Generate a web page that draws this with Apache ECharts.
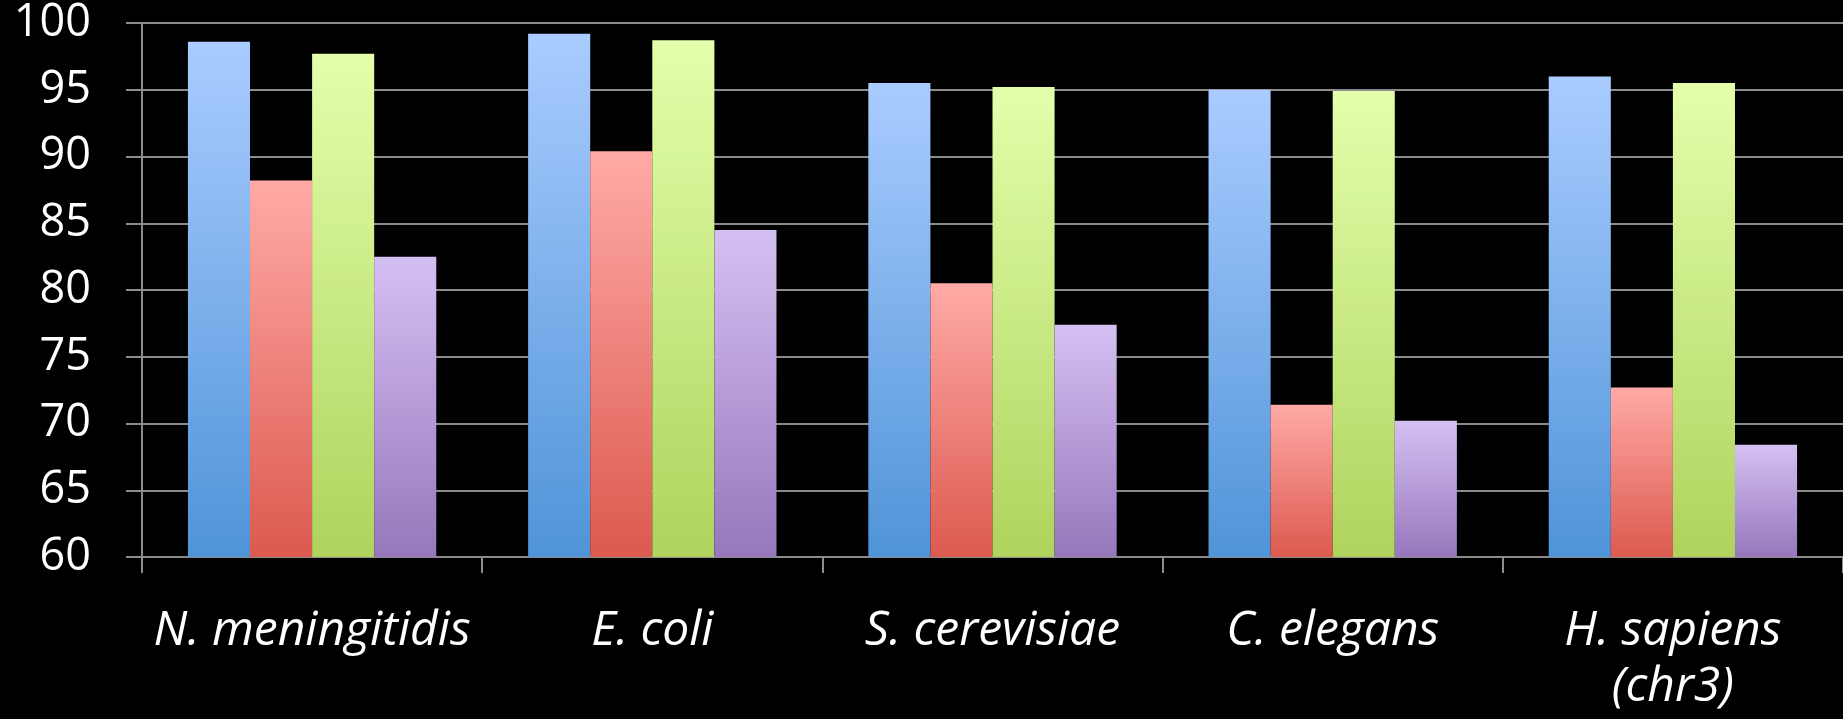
<!DOCTYPE html>
<html>
<head>
<meta charset="utf-8">
<script src="https://cdn.jsdelivr.net/npm/echarts@6/dist/echarts.min.js"></script>
<style>
html,body{margin:0;padding:0;background:#000;}
#chart{width:1843px;height:719px;}
</style>
</head>
<body>
<div id="chart"></div>
<script>
const categories = ['N. meningitidis', 'E. coli', 'S. cerevisiae', 'C. elegans', 'H. sapiens\n(chr3)'];
const seriesBlue   = [98.6, 99.2, 95.5, 95.0, 96.0];
const seriesRed    = [88.2, 90.4, 80.5, 71.4, 72.7];
const seriesGreen  = [97.7, 98.7, 95.2, 94.9, 95.5];
const seriesPurple = [82.5, 84.5, 77.4, 70.2, 68.4];
const yTicks = [60, 65, 70, 75, 80, 85, 90, 95, 100];

const grad = (top, bottom) => new echarts.graphic.LinearGradient(0, 0, 0, 1, [
  {offset: 0, color: top}, {offset: 1, color: bottom}
]);
const palette = [
  ['#aaccff', '#4f94d8'],
  ['#ffaaa6', '#dc5a4f'],
  ['#e3ffab', '#afd35d'],
  ['#d5c0f2', '#9677bc']
];
const datasets = [seriesBlue, seriesRed, seriesGreen, seriesPurple];

const chart = echarts.init(document.getElementById('chart'));
chart.setOption({
  backgroundColor: '#000',
  animation: false,
  grid: {left: 142, right: 0, top: 23, bottom: 162, containLabel: false},
  xAxis: {
    type: 'category',
    data: categories,
    axisLine: {lineStyle: {color: '#8c8c8c', width: 2}},
    axisTick: {show: true, interval: 0, length: 16, lineStyle: {color: '#8c8c8c', width: 2}},
    axisLabel: {
      interval: 0,
      color: '#fff', fontFamily: 'Open Sans', fontStyle: 'italic',
      fontSize: 48, margin: 46, lineHeight: 56
    }
  },
  yAxis: {
    type: 'value',
    min: yTicks[0], max: yTicks[yTicks.length - 1], interval: 5,
    axisLine: {show: true, lineStyle: {color: '#8c8c8c', width: 2}},
    axisTick: {show: true, length: 16, lineStyle: {color: '#8c8c8c', width: 2}},
    splitLine: {show: true, lineStyle: {color: '#8c8c8c', width: 2}},
    axisLabel: {color: '#fff', fontFamily: 'Open Sans', fontSize: 45, margin: 51}
  },
  series: datasets.map((d, i) => ({
    type: 'bar',
    data: d,
    barGap: '0%',
    barCategoryGap: '27%',
    itemStyle: {color: grad(palette[i][0], palette[i][1])}
  }))
});
</script>
</body>
</html>
